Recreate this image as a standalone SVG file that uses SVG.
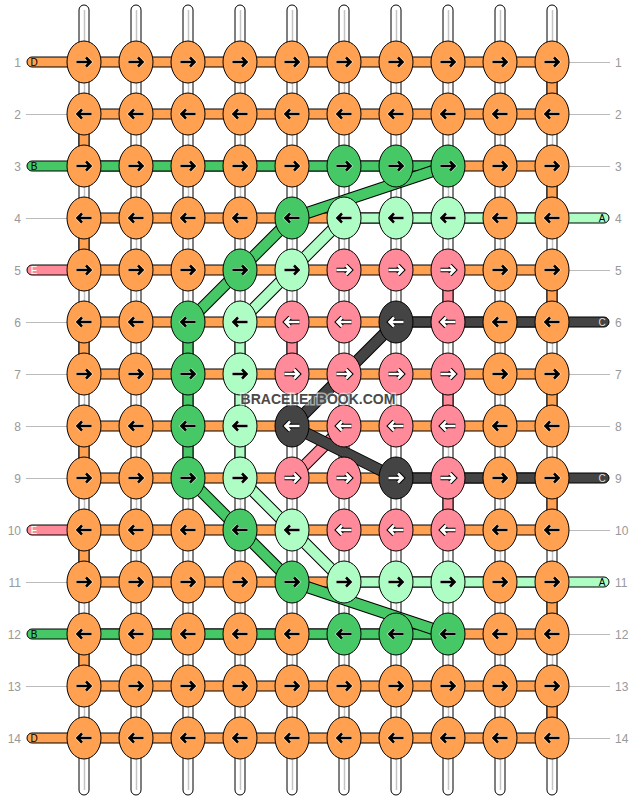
<svg xmlns="http://www.w3.org/2000/svg" xmlns:xlink="http://www.w3.org/1999/xlink" width="636" height="800" viewBox="0 0 636 800">
<style>
.o{fill:#FFA150}.g{fill:#47C867}.l{fill:#ADFDC4}.p{fill:#FF8A9A}.k{fill:#444444}
ellipse{stroke:#000;stroke-width:1}
.s{stroke:#000;stroke-width:1}
.w{fill:#fff;stroke:#000;stroke-width:1}
.wl{stroke:#c4c4c4;stroke-width:1.5}
.gl{stroke:#bbb;stroke-width:1}
.n{font-family:"Liberation Sans",Arial,sans-serif;font-size:12px;fill:#999}
.lt{font-family:"Liberation Sans",Arial,sans-serif;font-size:10px;text-anchor:middle}
.do{stroke:#000;stroke-width:12}
.dg{stroke:#47C867;stroke-width:10}.dl{stroke:#ADFDC4;stroke-width:10}.dp{stroke:#FF8A9A;stroke-width:10}.dk{stroke:#444444;stroke-width:10}
.ab{fill:none;stroke:#000;stroke-width:2.6}.aw{fill:none;stroke:#fff;stroke-width:2.6}.ao{fill:none;stroke:#000;stroke-width:4.6}.ah{fill:none;stroke:#fff;stroke-width:4;opacity:.6}
</style>
<defs>
<path id="pr" d="M-7.5,0H6M2,-4.5L6.5,0L2,4.5"/>
<path id="pl" d="M7.5,0H-6M-2,-4.5L-6.5,0L-2,4.5"/>
<g id="R"><use href="#pr" class="ah"/><use href="#pr" class="ab"/></g>
<g id="L"><use href="#pl" class="ah"/><use href="#pl" class="ab"/></g>
<g id="RW"><use href="#pr" class="ao"/><use href="#pr" class="aw"/></g>
<g id="LW"><use href="#pl" class="ao"/><use href="#pl" class="aw"/></g>
</defs>
<rect width="636" height="800" fill="#fff"/>
<g id="connectors">
<g id="warps">
<rect class="w" x="79" y="5" width="10" height="790" rx="5"/><line class="wl" x1="84.5" y1="10" x2="84.5" y2="790"/>
<rect class="w" x="131" y="5" width="10" height="790" rx="5"/><line class="wl" x1="136.5" y1="10" x2="136.5" y2="790"/>
<rect class="w" x="183" y="5" width="10" height="790" rx="5"/><line class="wl" x1="188.5" y1="10" x2="188.5" y2="790"/>
<rect class="w" x="235" y="5" width="10" height="790" rx="5"/><line class="wl" x1="240.5" y1="10" x2="240.5" y2="790"/>
<rect class="w" x="287" y="5" width="10" height="790" rx="5"/><line class="wl" x1="292.5" y1="10" x2="292.5" y2="790"/>
<rect class="w" x="339" y="5" width="10" height="790" rx="5"/><line class="wl" x1="344.5" y1="10" x2="344.5" y2="790"/>
<rect class="w" x="391" y="5" width="10" height="790" rx="5"/><line class="wl" x1="396.5" y1="10" x2="396.5" y2="790"/>
<rect class="w" x="443" y="5" width="10" height="790" rx="5"/><line class="wl" x1="448.5" y1="10" x2="448.5" y2="790"/>
<rect class="w" x="495" y="5" width="10" height="790" rx="5"/><line class="wl" x1="500.5" y1="10" x2="500.5" y2="790"/>
<rect class="w" x="547" y="5" width="10" height="790" rx="5"/><line class="wl" x1="552.5" y1="10" x2="552.5" y2="790"/>
</g>
<g id="rowlines">
<line class="gl" x1="26" y1="114.5" x2="67" y2="114.5"/>
<line class="gl" x1="26" y1="218.5" x2="67" y2="218.5"/>
<line class="gl" x1="26" y1="322.5" x2="67" y2="322.5"/>
<line class="gl" x1="26" y1="374.5" x2="67" y2="374.5"/>
<line class="gl" x1="26" y1="426.5" x2="67" y2="426.5"/>
<line class="gl" x1="26" y1="478.5" x2="67" y2="478.5"/>
<line class="gl" x1="26" y1="582.5" x2="67" y2="582.5"/>
<line class="gl" x1="26" y1="686.5" x2="67" y2="686.5"/>
<line class="gl" x1="569" y1="62.5" x2="610" y2="62.5"/>
<line class="gl" x1="569" y1="114.5" x2="610" y2="114.5"/>
<line class="gl" x1="569" y1="166.5" x2="610" y2="166.5"/>
<line class="gl" x1="569" y1="270.5" x2="610" y2="270.5"/>
<line class="gl" x1="569" y1="374.5" x2="610" y2="374.5"/>
<line class="gl" x1="569" y1="426.5" x2="610" y2="426.5"/>
<line class="gl" x1="569" y1="530.5" x2="610" y2="530.5"/>
<line class="gl" x1="569" y1="634.5" x2="610" y2="634.5"/>
<line class="gl" x1="569" y1="686.5" x2="610" y2="686.5"/>
<line class="gl" x1="569" y1="738.5" x2="610" y2="738.5"/>
</g>
<g id="verticals">
<rect class="o s" x="79" y="114" width="10" height="52"/>
<rect class="o s" x="79" y="218" width="10" height="52"/>
<rect class="o s" x="79" y="322" width="10" height="52"/>
<rect class="o s" x="79" y="426" width="10" height="52"/>
<rect class="o s" x="79" y="530" width="10" height="52"/>
<rect class="o s" x="79" y="634" width="10" height="52"/>
<rect class="o s" x="547" y="62" width="10" height="52"/>
<rect class="o s" x="547" y="166" width="10" height="52"/>
<rect class="o s" x="547" y="270" width="10" height="52"/>
<rect class="o s" x="547" y="374" width="10" height="52"/>
<rect class="o s" x="547" y="478" width="10" height="52"/>
<rect class="o s" x="547" y="582" width="10" height="52"/>
<rect class="o s" x="547" y="686" width="10" height="52"/>
<rect class="g s" x="183" y="322" width="10" height="156"/>
<rect class="l s" x="235" y="322" width="10" height="156"/>
<rect class="p s" x="287" y="322" width="10" height="52"/>
<rect class="p s" x="443" y="270" width="10" height="52"/>
<rect class="p s" x="443" y="374" width="10" height="52"/>
<rect class="p s" x="443" y="478" width="10" height="52"/>
</g>
<g id="horizontals">
<rect class="o s" x="27" y="57" width="62" height="10" rx="5"/>
<rect class="g s" x="27" y="161" width="62" height="10" rx="5"/>
<rect class="p s" x="27" y="265" width="62" height="10" rx="5"/>
<rect class="p s" x="27" y="525" width="62" height="10" rx="5"/>
<rect class="g s" x="27" y="629" width="62" height="10" rx="5"/>
<rect class="o s" x="27" y="733" width="62" height="10" rx="5"/>
<rect class="l s" x="547" y="213" width="62" height="10" rx="5"/>
<rect class="k s" x="547" y="317" width="62" height="10" rx="5"/>
<rect class="k s" x="547" y="473" width="62" height="10" rx="5"/>
<rect class="l s" x="547" y="577" width="62" height="10" rx="5"/>
<rect class="o s" x="84" y="57" width="468" height="10"/>
<rect class="o s" x="84" y="109" width="468" height="10"/>
<rect class="o s" x="84" y="161" width="468" height="10"/>
<rect class="o s" x="84" y="213" width="468" height="10"/>
<rect class="o s" x="84" y="265" width="468" height="10"/>
<rect class="o s" x="84" y="317" width="468" height="10"/>
<rect class="o s" x="84" y="369" width="468" height="10"/>
<rect class="o s" x="84" y="421" width="468" height="10"/>
<rect class="o s" x="84" y="473" width="468" height="10"/>
<rect class="o s" x="84" y="525" width="468" height="10"/>
<rect class="o s" x="84" y="577" width="468" height="10"/>
<rect class="o s" x="84" y="629" width="468" height="10"/>
<rect class="o s" x="84" y="681" width="468" height="10"/>
<rect class="o s" x="84" y="733" width="468" height="10"/>
<rect class="g s" x="84" y="161" width="364" height="10"/>
<rect class="l s" x="344" y="213" width="208" height="10"/>
<rect class="k s" x="396" y="317" width="156" height="10"/>
<rect class="k s" x="396" y="473" width="156" height="10"/>
<rect class="l s" x="344" y="577" width="208" height="10"/>
<rect class="g s" x="84" y="629" width="364" height="10"/>
</g>
<g id="diagonals">
<line class="do" x1="344" y1="426" x2="292" y2="478"/><line class="dp" x1="344" y1="426" x2="292" y2="478"/>
<line class="do" x1="344" y1="218" x2="240" y2="322"/><line class="dl" x1="344" y1="218" x2="240" y2="322"/>
<line class="do" x1="240" y1="478" x2="344" y2="582"/><line class="dl" x1="240" y1="478" x2="344" y2="582"/>
<line class="do" x1="448" y1="166" x2="292" y2="218"/><line class="dg" x1="448" y1="166" x2="292" y2="218"/>
<line class="do" x1="292" y1="218" x2="188" y2="322"/><line class="dg" x1="292" y1="218" x2="188" y2="322"/>
<line class="do" x1="188" y1="478" x2="292" y2="582"/><line class="dg" x1="188" y1="478" x2="292" y2="582"/>
<line class="do" x1="292" y1="582" x2="448" y2="634"/><line class="dg" x1="292" y1="582" x2="448" y2="634"/>
<line class="do" x1="396" y1="322" x2="292" y2="426"/><line class="dk" x1="396" y1="322" x2="292" y2="426"/>
<line class="do" x1="292" y1="426" x2="396" y2="478"/><line class="dk" x1="292" y1="426" x2="396" y2="478"/>
</g>
</g>
<g id="knots">
<g id="k1-1"><ellipse class="o" cx="84" cy="62" rx="17" ry="21"/><use href="#R" x="84" y="62"/></g>
<g id="k1-2"><ellipse class="o" cx="136" cy="62" rx="17" ry="21"/><use href="#R" x="136" y="62"/></g>
<g id="k1-3"><ellipse class="o" cx="188" cy="62" rx="17" ry="21"/><use href="#R" x="188" y="62"/></g>
<g id="k1-4"><ellipse class="o" cx="240" cy="62" rx="17" ry="21"/><use href="#R" x="240" y="62"/></g>
<g id="k1-5"><ellipse class="o" cx="292" cy="62" rx="17" ry="21"/><use href="#R" x="292" y="62"/></g>
<g id="k1-6"><ellipse class="o" cx="344" cy="62" rx="17" ry="21"/><use href="#R" x="344" y="62"/></g>
<g id="k1-7"><ellipse class="o" cx="396" cy="62" rx="17" ry="21"/><use href="#R" x="396" y="62"/></g>
<g id="k1-8"><ellipse class="o" cx="448" cy="62" rx="17" ry="21"/><use href="#R" x="448" y="62"/></g>
<g id="k1-9"><ellipse class="o" cx="500" cy="62" rx="17" ry="21"/><use href="#R" x="500" y="62"/></g>
<g id="k1-10"><ellipse class="o" cx="552" cy="62" rx="17" ry="21"/><use href="#R" x="552" y="62"/></g>
<g id="k2-1"><ellipse class="o" cx="84" cy="114" rx="17" ry="21"/><use href="#L" x="84" y="114"/></g>
<g id="k2-2"><ellipse class="o" cx="136" cy="114" rx="17" ry="21"/><use href="#L" x="136" y="114"/></g>
<g id="k2-3"><ellipse class="o" cx="188" cy="114" rx="17" ry="21"/><use href="#L" x="188" y="114"/></g>
<g id="k2-4"><ellipse class="o" cx="240" cy="114" rx="17" ry="21"/><use href="#L" x="240" y="114"/></g>
<g id="k2-5"><ellipse class="o" cx="292" cy="114" rx="17" ry="21"/><use href="#L" x="292" y="114"/></g>
<g id="k2-6"><ellipse class="o" cx="344" cy="114" rx="17" ry="21"/><use href="#L" x="344" y="114"/></g>
<g id="k2-7"><ellipse class="o" cx="396" cy="114" rx="17" ry="21"/><use href="#L" x="396" y="114"/></g>
<g id="k2-8"><ellipse class="o" cx="448" cy="114" rx="17" ry="21"/><use href="#L" x="448" y="114"/></g>
<g id="k2-9"><ellipse class="o" cx="500" cy="114" rx="17" ry="21"/><use href="#L" x="500" y="114"/></g>
<g id="k2-10"><ellipse class="o" cx="552" cy="114" rx="17" ry="21"/><use href="#L" x="552" y="114"/></g>
<g id="k3-1"><ellipse class="o" cx="84" cy="166" rx="17" ry="21"/><use href="#R" x="84" y="166"/></g>
<g id="k3-2"><ellipse class="o" cx="136" cy="166" rx="17" ry="21"/><use href="#R" x="136" y="166"/></g>
<g id="k3-3"><ellipse class="o" cx="188" cy="166" rx="17" ry="21"/><use href="#R" x="188" y="166"/></g>
<g id="k3-4"><ellipse class="o" cx="240" cy="166" rx="17" ry="21"/><use href="#R" x="240" y="166"/></g>
<g id="k3-5"><ellipse class="o" cx="292" cy="166" rx="17" ry="21"/><use href="#R" x="292" y="166"/></g>
<g id="k3-6"><ellipse class="g" cx="344" cy="166" rx="17" ry="21"/><use href="#R" x="344" y="166"/></g>
<g id="k3-7"><ellipse class="g" cx="396" cy="166" rx="17" ry="21"/><use href="#R" x="396" y="166"/></g>
<g id="k3-8"><ellipse class="g" cx="448" cy="166" rx="17" ry="21"/><use href="#R" x="448" y="166"/></g>
<g id="k3-9"><ellipse class="o" cx="500" cy="166" rx="17" ry="21"/><use href="#R" x="500" y="166"/></g>
<g id="k3-10"><ellipse class="o" cx="552" cy="166" rx="17" ry="21"/><use href="#R" x="552" y="166"/></g>
<g id="k4-1"><ellipse class="o" cx="84" cy="218" rx="17" ry="21"/><use href="#L" x="84" y="218"/></g>
<g id="k4-2"><ellipse class="o" cx="136" cy="218" rx="17" ry="21"/><use href="#L" x="136" y="218"/></g>
<g id="k4-3"><ellipse class="o" cx="188" cy="218" rx="17" ry="21"/><use href="#L" x="188" y="218"/></g>
<g id="k4-4"><ellipse class="o" cx="240" cy="218" rx="17" ry="21"/><use href="#L" x="240" y="218"/></g>
<g id="k4-5"><ellipse class="g" cx="292" cy="218" rx="17" ry="21"/><use href="#L" x="292" y="218"/></g>
<g id="k4-6"><ellipse class="l" cx="344" cy="218" rx="17" ry="21"/><use href="#L" x="344" y="218"/></g>
<g id="k4-7"><ellipse class="l" cx="396" cy="218" rx="17" ry="21"/><use href="#L" x="396" y="218"/></g>
<g id="k4-8"><ellipse class="l" cx="448" cy="218" rx="17" ry="21"/><use href="#L" x="448" y="218"/></g>
<g id="k4-9"><ellipse class="o" cx="500" cy="218" rx="17" ry="21"/><use href="#L" x="500" y="218"/></g>
<g id="k4-10"><ellipse class="o" cx="552" cy="218" rx="17" ry="21"/><use href="#L" x="552" y="218"/></g>
<g id="k5-1"><ellipse class="o" cx="84" cy="270" rx="17" ry="21"/><use href="#R" x="84" y="270"/></g>
<g id="k5-2"><ellipse class="o" cx="136" cy="270" rx="17" ry="21"/><use href="#R" x="136" y="270"/></g>
<g id="k5-3"><ellipse class="o" cx="188" cy="270" rx="17" ry="21"/><use href="#R" x="188" y="270"/></g>
<g id="k5-4"><ellipse class="g" cx="240" cy="270" rx="17" ry="21"/><use href="#R" x="240" y="270"/></g>
<g id="k5-5"><ellipse class="l" cx="292" cy="270" rx="17" ry="21"/><use href="#R" x="292" y="270"/></g>
<g id="k5-6"><ellipse class="p" cx="344" cy="270" rx="17" ry="21"/><use href="#RW" x="344" y="270"/></g>
<g id="k5-7"><ellipse class="p" cx="396" cy="270" rx="17" ry="21"/><use href="#RW" x="396" y="270"/></g>
<g id="k5-8"><ellipse class="p" cx="448" cy="270" rx="17" ry="21"/><use href="#RW" x="448" y="270"/></g>
<g id="k5-9"><ellipse class="o" cx="500" cy="270" rx="17" ry="21"/><use href="#R" x="500" y="270"/></g>
<g id="k5-10"><ellipse class="o" cx="552" cy="270" rx="17" ry="21"/><use href="#R" x="552" y="270"/></g>
<g id="k6-1"><ellipse class="o" cx="84" cy="322" rx="17" ry="21"/><use href="#L" x="84" y="322"/></g>
<g id="k6-2"><ellipse class="o" cx="136" cy="322" rx="17" ry="21"/><use href="#L" x="136" y="322"/></g>
<g id="k6-3"><ellipse class="g" cx="188" cy="322" rx="17" ry="21"/><use href="#L" x="188" y="322"/></g>
<g id="k6-4"><ellipse class="l" cx="240" cy="322" rx="17" ry="21"/><use href="#L" x="240" y="322"/></g>
<g id="k6-5"><ellipse class="p" cx="292" cy="322" rx="17" ry="21"/><use href="#LW" x="292" y="322"/></g>
<g id="k6-6"><ellipse class="p" cx="344" cy="322" rx="17" ry="21"/><use href="#LW" x="344" y="322"/></g>
<g id="k6-7"><ellipse class="k" cx="396" cy="322" rx="17" ry="21"/><use href="#LW" x="396" y="322"/></g>
<g id="k6-8"><ellipse class="p" cx="448" cy="322" rx="17" ry="21"/><use href="#LW" x="448" y="322"/></g>
<g id="k6-9"><ellipse class="o" cx="500" cy="322" rx="17" ry="21"/><use href="#L" x="500" y="322"/></g>
<g id="k6-10"><ellipse class="o" cx="552" cy="322" rx="17" ry="21"/><use href="#L" x="552" y="322"/></g>
<g id="k7-1"><ellipse class="o" cx="84" cy="374" rx="17" ry="21"/><use href="#R" x="84" y="374"/></g>
<g id="k7-2"><ellipse class="o" cx="136" cy="374" rx="17" ry="21"/><use href="#R" x="136" y="374"/></g>
<g id="k7-3"><ellipse class="g" cx="188" cy="374" rx="17" ry="21"/><use href="#R" x="188" y="374"/></g>
<g id="k7-4"><ellipse class="l" cx="240" cy="374" rx="17" ry="21"/><use href="#R" x="240" y="374"/></g>
<g id="k7-5"><ellipse class="p" cx="292" cy="374" rx="17" ry="21"/><use href="#RW" x="292" y="374"/></g>
<g id="k7-6"><ellipse class="p" cx="344" cy="374" rx="17" ry="21"/><use href="#RW" x="344" y="374"/></g>
<g id="k7-7"><ellipse class="p" cx="396" cy="374" rx="17" ry="21"/><use href="#RW" x="396" y="374"/></g>
<g id="k7-8"><ellipse class="p" cx="448" cy="374" rx="17" ry="21"/><use href="#RW" x="448" y="374"/></g>
<g id="k7-9"><ellipse class="o" cx="500" cy="374" rx="17" ry="21"/><use href="#R" x="500" y="374"/></g>
<g id="k7-10"><ellipse class="o" cx="552" cy="374" rx="17" ry="21"/><use href="#R" x="552" y="374"/></g>
<g id="k8-1"><ellipse class="o" cx="84" cy="426" rx="17" ry="21"/><use href="#L" x="84" y="426"/></g>
<g id="k8-2"><ellipse class="o" cx="136" cy="426" rx="17" ry="21"/><use href="#L" x="136" y="426"/></g>
<g id="k8-3"><ellipse class="g" cx="188" cy="426" rx="17" ry="21"/><use href="#L" x="188" y="426"/></g>
<g id="k8-4"><ellipse class="l" cx="240" cy="426" rx="17" ry="21"/><use href="#L" x="240" y="426"/></g>
<g id="k8-5"><ellipse class="k" cx="292" cy="426" rx="17" ry="21"/><use href="#LW" x="292" y="426"/></g>
<g id="k8-6"><ellipse class="p" cx="344" cy="426" rx="17" ry="21"/><use href="#LW" x="344" y="426"/></g>
<g id="k8-7"><ellipse class="p" cx="396" cy="426" rx="17" ry="21"/><use href="#LW" x="396" y="426"/></g>
<g id="k8-8"><ellipse class="p" cx="448" cy="426" rx="17" ry="21"/><use href="#LW" x="448" y="426"/></g>
<g id="k8-9"><ellipse class="o" cx="500" cy="426" rx="17" ry="21"/><use href="#L" x="500" y="426"/></g>
<g id="k8-10"><ellipse class="o" cx="552" cy="426" rx="17" ry="21"/><use href="#L" x="552" y="426"/></g>
<g id="k9-1"><ellipse class="o" cx="84" cy="478" rx="17" ry="21"/><use href="#R" x="84" y="478"/></g>
<g id="k9-2"><ellipse class="o" cx="136" cy="478" rx="17" ry="21"/><use href="#R" x="136" y="478"/></g>
<g id="k9-3"><ellipse class="g" cx="188" cy="478" rx="17" ry="21"/><use href="#R" x="188" y="478"/></g>
<g id="k9-4"><ellipse class="l" cx="240" cy="478" rx="17" ry="21"/><use href="#R" x="240" y="478"/></g>
<g id="k9-5"><ellipse class="p" cx="292" cy="478" rx="17" ry="21"/><use href="#RW" x="292" y="478"/></g>
<g id="k9-6"><ellipse class="p" cx="344" cy="478" rx="17" ry="21"/><use href="#RW" x="344" y="478"/></g>
<g id="k9-7"><ellipse class="k" cx="396" cy="478" rx="17" ry="21"/><use href="#RW" x="396" y="478"/></g>
<g id="k9-8"><ellipse class="p" cx="448" cy="478" rx="17" ry="21"/><use href="#RW" x="448" y="478"/></g>
<g id="k9-9"><ellipse class="o" cx="500" cy="478" rx="17" ry="21"/><use href="#R" x="500" y="478"/></g>
<g id="k9-10"><ellipse class="o" cx="552" cy="478" rx="17" ry="21"/><use href="#R" x="552" y="478"/></g>
<g id="k10-1"><ellipse class="o" cx="84" cy="530" rx="17" ry="21"/><use href="#L" x="84" y="530"/></g>
<g id="k10-2"><ellipse class="o" cx="136" cy="530" rx="17" ry="21"/><use href="#L" x="136" y="530"/></g>
<g id="k10-3"><ellipse class="o" cx="188" cy="530" rx="17" ry="21"/><use href="#L" x="188" y="530"/></g>
<g id="k10-4"><ellipse class="g" cx="240" cy="530" rx="17" ry="21"/><use href="#L" x="240" y="530"/></g>
<g id="k10-5"><ellipse class="l" cx="292" cy="530" rx="17" ry="21"/><use href="#L" x="292" y="530"/></g>
<g id="k10-6"><ellipse class="p" cx="344" cy="530" rx="17" ry="21"/><use href="#LW" x="344" y="530"/></g>
<g id="k10-7"><ellipse class="p" cx="396" cy="530" rx="17" ry="21"/><use href="#LW" x="396" y="530"/></g>
<g id="k10-8"><ellipse class="p" cx="448" cy="530" rx="17" ry="21"/><use href="#LW" x="448" y="530"/></g>
<g id="k10-9"><ellipse class="o" cx="500" cy="530" rx="17" ry="21"/><use href="#L" x="500" y="530"/></g>
<g id="k10-10"><ellipse class="o" cx="552" cy="530" rx="17" ry="21"/><use href="#L" x="552" y="530"/></g>
<g id="k11-1"><ellipse class="o" cx="84" cy="582" rx="17" ry="21"/><use href="#R" x="84" y="582"/></g>
<g id="k11-2"><ellipse class="o" cx="136" cy="582" rx="17" ry="21"/><use href="#R" x="136" y="582"/></g>
<g id="k11-3"><ellipse class="o" cx="188" cy="582" rx="17" ry="21"/><use href="#R" x="188" y="582"/></g>
<g id="k11-4"><ellipse class="o" cx="240" cy="582" rx="17" ry="21"/><use href="#R" x="240" y="582"/></g>
<g id="k11-5"><ellipse class="g" cx="292" cy="582" rx="17" ry="21"/><use href="#R" x="292" y="582"/></g>
<g id="k11-6"><ellipse class="l" cx="344" cy="582" rx="17" ry="21"/><use href="#R" x="344" y="582"/></g>
<g id="k11-7"><ellipse class="l" cx="396" cy="582" rx="17" ry="21"/><use href="#R" x="396" y="582"/></g>
<g id="k11-8"><ellipse class="l" cx="448" cy="582" rx="17" ry="21"/><use href="#R" x="448" y="582"/></g>
<g id="k11-9"><ellipse class="o" cx="500" cy="582" rx="17" ry="21"/><use href="#R" x="500" y="582"/></g>
<g id="k11-10"><ellipse class="o" cx="552" cy="582" rx="17" ry="21"/><use href="#R" x="552" y="582"/></g>
<g id="k12-1"><ellipse class="o" cx="84" cy="634" rx="17" ry="21"/><use href="#L" x="84" y="634"/></g>
<g id="k12-2"><ellipse class="o" cx="136" cy="634" rx="17" ry="21"/><use href="#L" x="136" y="634"/></g>
<g id="k12-3"><ellipse class="o" cx="188" cy="634" rx="17" ry="21"/><use href="#L" x="188" y="634"/></g>
<g id="k12-4"><ellipse class="o" cx="240" cy="634" rx="17" ry="21"/><use href="#L" x="240" y="634"/></g>
<g id="k12-5"><ellipse class="o" cx="292" cy="634" rx="17" ry="21"/><use href="#L" x="292" y="634"/></g>
<g id="k12-6"><ellipse class="g" cx="344" cy="634" rx="17" ry="21"/><use href="#L" x="344" y="634"/></g>
<g id="k12-7"><ellipse class="g" cx="396" cy="634" rx="17" ry="21"/><use href="#L" x="396" y="634"/></g>
<g id="k12-8"><ellipse class="g" cx="448" cy="634" rx="17" ry="21"/><use href="#L" x="448" y="634"/></g>
<g id="k12-9"><ellipse class="o" cx="500" cy="634" rx="17" ry="21"/><use href="#L" x="500" y="634"/></g>
<g id="k12-10"><ellipse class="o" cx="552" cy="634" rx="17" ry="21"/><use href="#L" x="552" y="634"/></g>
<g id="k13-1"><ellipse class="o" cx="84" cy="686" rx="17" ry="21"/><use href="#R" x="84" y="686"/></g>
<g id="k13-2"><ellipse class="o" cx="136" cy="686" rx="17" ry="21"/><use href="#R" x="136" y="686"/></g>
<g id="k13-3"><ellipse class="o" cx="188" cy="686" rx="17" ry="21"/><use href="#R" x="188" y="686"/></g>
<g id="k13-4"><ellipse class="o" cx="240" cy="686" rx="17" ry="21"/><use href="#R" x="240" y="686"/></g>
<g id="k13-5"><ellipse class="o" cx="292" cy="686" rx="17" ry="21"/><use href="#R" x="292" y="686"/></g>
<g id="k13-6"><ellipse class="o" cx="344" cy="686" rx="17" ry="21"/><use href="#R" x="344" y="686"/></g>
<g id="k13-7"><ellipse class="o" cx="396" cy="686" rx="17" ry="21"/><use href="#R" x="396" y="686"/></g>
<g id="k13-8"><ellipse class="o" cx="448" cy="686" rx="17" ry="21"/><use href="#R" x="448" y="686"/></g>
<g id="k13-9"><ellipse class="o" cx="500" cy="686" rx="17" ry="21"/><use href="#R" x="500" y="686"/></g>
<g id="k13-10"><ellipse class="o" cx="552" cy="686" rx="17" ry="21"/><use href="#R" x="552" y="686"/></g>
<g id="k14-1"><ellipse class="o" cx="84" cy="738" rx="17" ry="21"/><use href="#L" x="84" y="738"/></g>
<g id="k14-2"><ellipse class="o" cx="136" cy="738" rx="17" ry="21"/><use href="#L" x="136" y="738"/></g>
<g id="k14-3"><ellipse class="o" cx="188" cy="738" rx="17" ry="21"/><use href="#L" x="188" y="738"/></g>
<g id="k14-4"><ellipse class="o" cx="240" cy="738" rx="17" ry="21"/><use href="#L" x="240" y="738"/></g>
<g id="k14-5"><ellipse class="o" cx="292" cy="738" rx="17" ry="21"/><use href="#L" x="292" y="738"/></g>
<g id="k14-6"><ellipse class="o" cx="344" cy="738" rx="17" ry="21"/><use href="#L" x="344" y="738"/></g>
<g id="k14-7"><ellipse class="o" cx="396" cy="738" rx="17" ry="21"/><use href="#L" x="396" y="738"/></g>
<g id="k14-8"><ellipse class="o" cx="448" cy="738" rx="17" ry="21"/><use href="#L" x="448" y="738"/></g>
<g id="k14-9"><ellipse class="o" cx="500" cy="738" rx="17" ry="21"/><use href="#L" x="500" y="738"/></g>
<g id="k14-10"><ellipse class="o" cx="552" cy="738" rx="17" ry="21"/><use href="#L" x="552" y="738"/></g>
</g>
<g id="string-labels">
<text class="lt" x="34" y="66" fill="#000">D</text>
<text class="lt" x="34" y="170" fill="#000">B</text>
<text class="lt" x="34" y="274" fill="#fff">E</text>
<text class="lt" x="34" y="534" fill="#fff">E</text>
<text class="lt" x="34" y="638" fill="#000">B</text>
<text class="lt" x="34" y="742" fill="#000">D</text>
<text class="lt" x="602" y="222" fill="#000">A</text>
<text class="lt" x="602" y="326" fill="#ddd">C</text>
<text class="lt" x="602" y="482" fill="#ddd">C</text>
<text class="lt" x="602" y="586" fill="#000">A</text>
</g>
<g id="row-numbers">
<text class="n" text-anchor="end" x="21" y="66.5">1</text>
<text class="n" text-anchor="end" x="21" y="118.5">2</text>
<text class="n" text-anchor="end" x="21" y="170.5">3</text>
<text class="n" text-anchor="end" x="21" y="222.5">4</text>
<text class="n" text-anchor="end" x="21" y="274.5">5</text>
<text class="n" text-anchor="end" x="21" y="326.5">6</text>
<text class="n" text-anchor="end" x="21" y="378.5">7</text>
<text class="n" text-anchor="end" x="21" y="430.5">8</text>
<text class="n" text-anchor="end" x="21" y="482.5">9</text>
<text class="n" text-anchor="end" x="21" y="534.5">10</text>
<text class="n" text-anchor="end" x="21" y="586.5">11</text>
<text class="n" text-anchor="end" x="21" y="638.5">12</text>
<text class="n" text-anchor="end" x="21" y="690.5">13</text>
<text class="n" text-anchor="end" x="21" y="742.5">14</text>
<text class="n" x="615" y="66.5">1</text>
<text class="n" x="615" y="118.5">2</text>
<text class="n" x="615" y="170.5">3</text>
<text class="n" x="615" y="222.5">4</text>
<text class="n" x="615" y="274.5">5</text>
<text class="n" x="615" y="326.5">6</text>
<text class="n" x="615" y="378.5">7</text>
<text class="n" x="615" y="430.5">8</text>
<text class="n" x="615" y="482.5">9</text>
<text class="n" x="615" y="534.5">10</text>
<text class="n" x="615" y="586.5">11</text>
<text class="n" x="615" y="638.5">12</text>
<text class="n" x="615" y="690.5">13</text>
<text class="n" x="615" y="742.5">14</text>
</g>
<text id="watermark" x="318" y="404" text-anchor="middle" font-family="'Liberation Sans',Arial,sans-serif" font-weight="bold" font-size="14" fill="#4a4a4a" stroke="#ffffff" stroke-opacity="0.55" stroke-width="3" paint-order="stroke">BRACELETBOOK.COM</text>
</svg>
